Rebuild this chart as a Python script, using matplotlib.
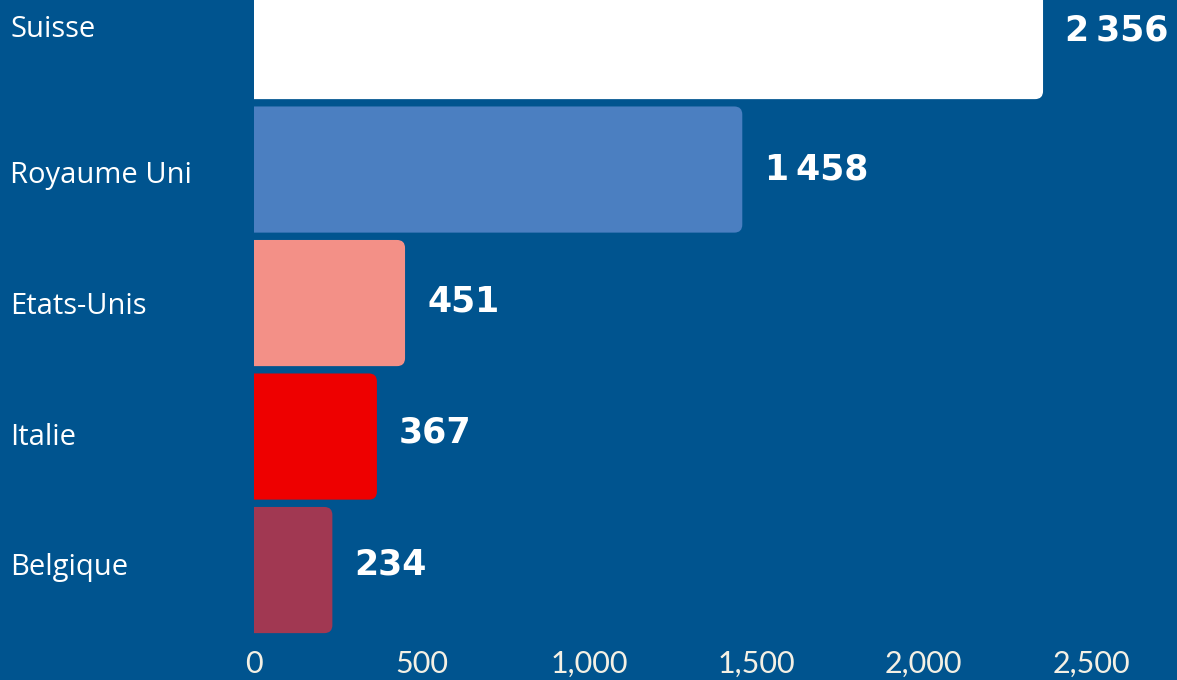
import matplotlib.pyplot as plt
import matplotlib.transforms as mtransforms
from matplotlib.patches import FancyBboxPatch
from matplotlib.ticker import FuncFormatter

countries = ['Suisse', 'Royaume Uni', 'Etats-Unis', 'Italie', 'Belgique']
values = [2356, 1458, 451, 367, 234]
value_labels = ['2\u202f356', '1\u202f458', '451', '367', '234']
bar_colors = ['#FFFFFF', '#4B7FC1', '#F39087', '#EE0000', '#A13852']
xticks = [0, 500, 1000, 1500, 2000, 2500]

BG = '#00548F'
W, H = 1177, 680

fig = plt.figure(figsize=(W / 100, H / 100), dpi=100, facecolor=BG)
ax = fig.add_axes([254 / W, 40 / H, 1 - 254 / W, 1 - 40 / H])
ax.set_facecolor(BG)

xmax = 2756
ytop, ybot = -0.27, 4.524
ax.set_xlim(0, xmax)
ax.set_ylim(ybot, ytop)

# bars with rounded right corners (left edge starts off-axes so only the right side shows rounding)
bar_h = 0.945
px_x = (W - 254) / xmax
px_y = (H - 40) / (ybot - ytop)
r = 8 / px_x
for i, (v, c) in enumerate(zip(values, bar_colors)):
    p = FancyBboxPatch((-3 * r, i - bar_h / 2), v + 3 * r, bar_h,
                       boxstyle='round,pad=0,rounding_size=%f' % r,
                       mutation_aspect=px_x / px_y,
                       facecolor=c, edgecolor='none', clip_on=True)
    ax.add_patch(p)

# value labels (the top one sits higher since its bar is cut by the figure edge)
for i, (v, lab) in enumerate(zip(values, value_labels)):
    y = i + 0.09 - 0.015 * i if i > 0 else 0.03
    ax.annotate(lab, (v, y), xytext=(16, 0), textcoords='offset points',
                va='baseline', ha='left', color='white', fontsize=25,
                fontfamily='DejaVu Sans', fontweight='bold')

# category labels at left edge of figure
trans = mtransforms.blended_transform_factory(fig.transFigure, ax.transData)
for i, name in enumerate(countries):
    y = i + 0.12 - 0.02 * i if i > 0 else 0.01
    ax.text(10 / W, y, name, transform=trans, va='baseline', ha='left',
            color='white', fontsize=21, fontfamily='Open Sans')

ax.set_xticks(xticks)
ax.xaxis.set_major_formatter(FuncFormatter(lambda x, p: '{:,.0f}'.format(x)))
ax.tick_params(axis='x', length=0, pad=7, labelsize=22, labelcolor='#F4F0E4')
for t in ax.get_xticklabels():
    t.set_fontfamily('Lato')
ax.set_yticks([])
for s in ax.spines.values():
    s.set_visible(False)

fig.savefig('out.png', dpi=100, facecolor=BG)
